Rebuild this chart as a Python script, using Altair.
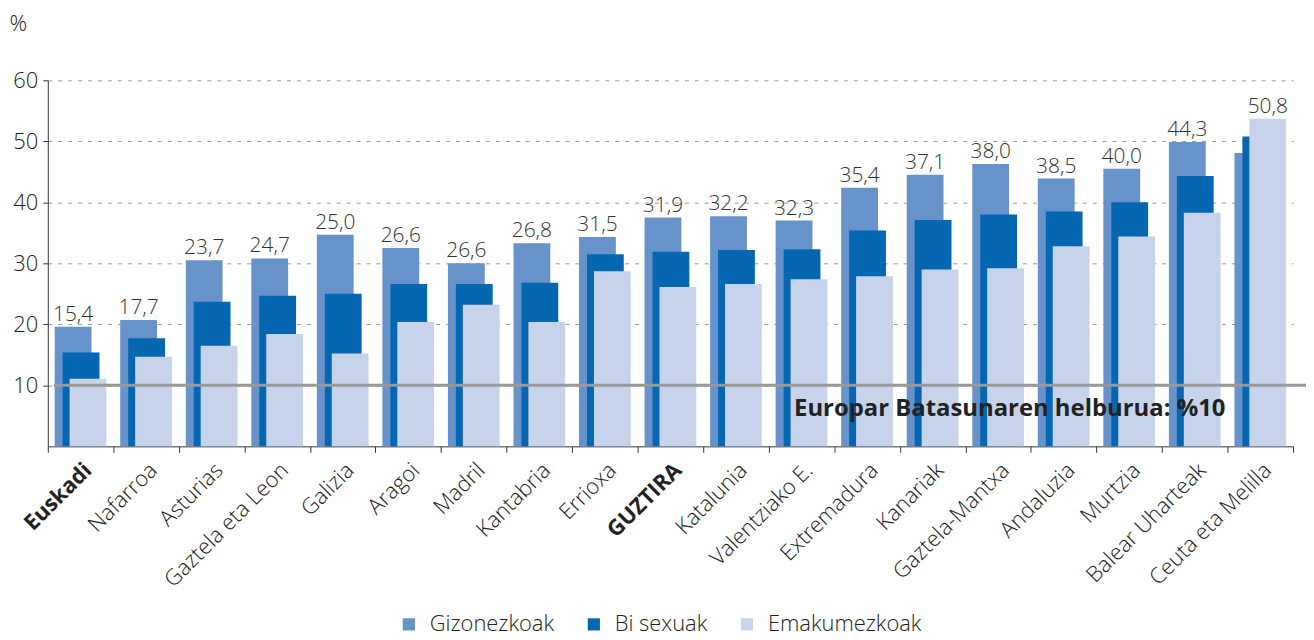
import altair as alt
import pandas as pd

categories = ["Euskadi", "Nafarroa", "Asturias", "Gaztela eta Leon", "Galizia", "Aragoi",
              "Madril", "Kantabria", "Errioxa", "GUZTIRA", "Katalunia", "Valentziako E.",
              "Extremadura", "Kanariak", "Gaztela-Mantxa", "Andaluzia", "Murtzia",
              "Balear Uharteak", "Ceuta eta Melilla"]
gizonezkoak = [19.6, 20.7, 30.5, 30.8, 34.7, 32.5, 30.0, 33.3, 34.3, 37.5, 37.7, 37.0,
               42.4, 44.5, 46.3, 43.9, 45.5, 49.9, 48.1]
bi_sexuak = [15.4, 17.7, 23.7, 24.7, 25.0, 26.6, 26.6, 26.8, 31.5, 31.9, 32.2, 32.3,
             35.4, 37.1, 38.0, 38.5, 40.0, 44.3, 50.8]
emakumezkoak = [11.1, 14.7, 16.5, 18.4, 15.2, 20.4, 23.2, 20.4, 28.7, 26.1, 26.6, 27.4,
                27.9, 29.0, 29.2, 32.8, 34.4, 38.3, 53.7]
series_names = ["Gizonezkoak", "Bi sexuak", "Emakumezkoak"]
series_colors = ["#6792CA", "#0567B2", "#C7D3EA"]
y_ticks = [10, 20, 30, 40, 50, 60]
goal_value = [10]
goal_label = ["Europar Batasunaren helburua: %10"]

FONT = "Open Sans"

rows = []
for name, vals in zip(series_names, [gizonezkoak, bi_sexuak, emakumezkoak]):
    for c, v in zip(categories, vals):
        rows.append({"cat": c, "serie": name, "value": v})
long_df = pd.DataFrame(rows)
wide_df = pd.DataFrame({"cat": categories, "g": gizonezkoak, "b": bi_sexuak, "e": emakumezkoak})
goal_df = pd.DataFrame({"goal": goal_value, "label": goal_label})

x_enc = alt.X("cat:N", sort=categories,
              scale=alt.Scale(domain=categories, paddingInner=0, paddingOuter=0),
              axis=alt.Axis(title=None, labelAngle=-45, labelAlign="right", labelBaseline="top",
                            labelFontSize=22, labelColor="#222", labelPadding=7,
                            labelFontWeight={"condition": {"test": "datum.value == 'Euskadi' || datum.value == 'GUZTIRA'",
                                                           "value": "bold"}, "value": 300},
                            tickBand="extent", tickSize=6, tickColor="#333",
                            domainColor="#333", labelOverlap=False, grid=False))
y_enc = alt.Y("value:Q", scale=alt.Scale(domain=[0, 60], nice=False),
              axis=alt.Axis(values=y_ticks, title="%", titleAngle=0, titleX=-39, titleY=-57,
                            titleAlign="left", titleBaseline="middle", titleFontSize=22,
                            titleFontWeight=300, titleColor="#222",
                            labelFontSize=22, labelFontWeight=300, labelColor="#222", labelPadding=5,
                            tickSize=5, tickColor="#333", domainColor="#333",
                            grid=True, gridColor="#9a9a9a", gridDash=[4, 6], gridWidth=1))
color_enc = alt.Color("serie:N", scale=alt.Scale(domain=series_names, range=series_colors),
                      legend=alt.Legend(title=None, orient="none", direction="horizontal",
                                        legendX=352, legendY=536, symbolType="square",
                                        symbolSize=150, symbolStrokeWidth=0, labelFontSize=22,
                                        labelFontWeight=300,
                                        labelColor="#222", labelOffset=10, columnPadding=28))

base = alt.Chart(long_df).encode(x=x_enc, y=y_enc, color=color_enc)
offsets = [-7.5, 0.5, 7.5]
bar_layers = [
    base.transform_filter(alt.datum.serie == name).mark_bar(width=37, xOffset=off)
    for name, off in zip(series_names, offsets)
]

lbl_base = alt.Chart(wide_df).transform_calculate(
    top="max(datum.g, datum.b, datum.e)",
    label="replace(format(datum.b, '.1f'), '.', ',')"
).encode(
    x=alt.X("cat:N", sort=categories),
    y=alt.Y("top:Q"),
    text="label:N",
)
lbl_g = lbl_base.transform_filter("datum.g >= datum.e").mark_text(
    baseline="bottom", dy=-2, xOffset=-7.5, fontSize=21, fontWeight=300, color="#333")
lbl_e = lbl_base.transform_filter("datum.g < datum.e").mark_text(
    baseline="bottom", dy=-2, xOffset=7.5, fontSize=21, fontWeight=300, color="#333")

rule = alt.Chart(goal_df).mark_rule(color="#999999", strokeWidth=3).encode(
    y=alt.Y("goal:Q"), x=alt.value(6), x2=alt.value(1265))
note = alt.Chart(goal_df).mark_text(align="right", baseline="middle", fontWeight="bold",
                                     fontSize=24, color="#222", dy=24).encode(
    y=alt.Y("goal:Q"), x=alt.value(1184), text="label:N")

chart = alt.layer(*bar_layers, rule, lbl_g, lbl_e, note).properties(
    width=1252, height=368,
    autosize=alt.AutoSizeParams(type="none"),
    padding={"left": 40, "top": 71, "right": 13, "bottom": 193},
).configure(font=FONT).configure_view(stroke=None)

chart.save("out.html", embed_options={"renderer": "svg", "actions": False})
